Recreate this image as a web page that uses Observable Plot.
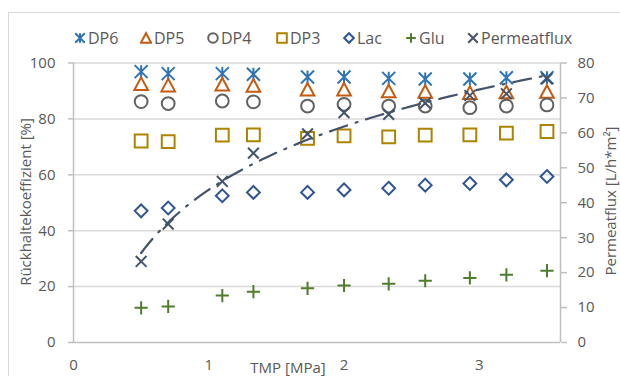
<!DOCTYPE html>
<html><head><meta charset="utf-8">
<script src="https://cdn.jsdelivr.net/npm/d3@7"></script>
<script src="https://cdn.jsdelivr.net/npm/@observablehq/plot@0.6"></script>
<style>
body{margin:0;background:#fff;font-family:"Open Sans",sans-serif;}
#wrap{position:relative;width:620px;height:376px;overflow:hidden;background:#fff}
#border{position:absolute;left:8px;top:12px;width:700px;height:500px;border:1.5px solid #d9d9d9;box-sizing:border-box}
.layer{position:absolute;left:0;top:0}
.t{position:absolute;color:#595959;font-size:15px;white-space:nowrap;line-height:1}
.lg{position:absolute;top:29px;height:18px;display:flex;align-items:center;color:#595959;font-size:16px;white-space:nowrap}
.lg svg{margin-right:2px}
</style></head>
<body><div id="wrap"><div id="border"></div></div>
<script>
// ---- data ----
const tmp   = [0.5, 0.7, 1.1, 1.33, 1.73, 2.0, 2.33, 2.6, 2.93, 3.2, 3.5];
const dp6   = [96.9, 96.2, 96.2, 96.0, 95.0, 95.0, 94.5, 94.3, 94.3, 94.7, 94.7];
const dp5   = [92.6, 92.1, 92.4, 92.0, 90.6, 90.6, 90.0, 89.8, 89.4, 89.6, 89.8];
const dp4   = [86.2, 85.5, 86.4, 86.1, 84.6, 85.2, 84.6, 84.6, 84.0, 84.6, 85.0];
const dp3   = [72.1, 71.9, 74.2, 74.3, 73.0, 73.9, 73.6, 74.2, 74.3, 74.9, 75.5];
const lac   = [47.1, 48.1, 52.5, 53.7, 53.7, 54.6, 55.2, 56.3, 56.9, 58.2, 59.4];
const glu   = [12.4, 12.9, 16.8, 18.2, 19.4, 20.4, 21.0, 22.1, 23.1, 24.2, 25.7];
const flux  = [23.2, 33.9, 46.1, 54.2, 59.7, 65.8, 65.3, 68.5, 70.7, 71.2, 75.5];
const leftTicks  = [0, 20, 40, 60, 80, 100];
const rightTicks = [0, 10, 20, 30, 40, 50, 60, 70, 80];
const xTicks     = [0, 1, 2, 3];

// ---- custom marker symbols (r = sqrt(size/PI)) ----
const R = s => Math.sqrt(s / Math.PI);
const sym = {
  star: {draw(c, s){const r=R(s); c.moveTo(-r,-r);c.lineTo(r,r);c.moveTo(-r,r);c.lineTo(r,-r);c.moveTo(0,-r);c.lineTo(0,r);}},
  tri: {draw(c, s){const r=R(s); c.moveTo(0,-r);c.lineTo(1.08*r,r);c.lineTo(-1.08*r,r);c.closePath();}},
  circ: {draw(c, s){const r=R(s); c.moveTo(r,0);c.arc(0,0,r,0,2*Math.PI);}},
  sq: {draw(c, s){const r=R(s); c.rect(-r,-r,2*r,2*r);}},
  dia: {draw(c, s){const r=R(s); c.moveTo(0,-r);c.lineTo(r,0);c.lineTo(0,r);c.lineTo(-r,0);c.closePath();}},
  plus: {draw(c, s){const r=R(s); c.moveTo(-r,0);c.lineTo(r,0);c.moveTo(0,-r);c.lineTo(0,r);}},
  times: {draw(c, s){const r=R(s); c.moveTo(-r,-r);c.lineTo(r,r);c.moveTo(-r,r);c.lineTo(r,-r);}}
};

const series = [
  {name:"DP6", vals:dp6, sym:sym.star, r:6.5, color:"#2E75B6", lx:80},
  {name:"DP5", vals:dp5, sym:sym.tri,  r:6.3, color:"#C55A11", lx:146},
  {name:"DP4", vals:dp4, sym:sym.circ, r:6.4, color:"#636363", lx:213},
  {name:"DP3", vals:dp3, sym:sym.sq,   r:6.4, color:"#AD8400", lx:282},
  {name:"Lac", vals:lac, sym:sym.dia,  r:6.4, color:"#2F5597", lx:349},
  {name:"Glu", vals:glu, sym:sym.plus, r:6.6, color:"#4E7D2C", lx:411}
];
const fluxSeries = {name:"Permeatflux", sym:sym.times, r:5.4, color:"#44546A", lx:473};

const common = {
  width:620, height:376, marginTop:62.5, marginBottom:34, marginLeft:73, marginRight:60,
  style:{background:"transparent", fontFamily:"Open Sans", fontSize:"15px", color:"#595959", overflow:"visible"},
  x:{domain:[0,3.6]}
};

const marks1 = [
  Plot.gridY(leftTicks.slice(1), {stroke:"#d9d9d9", strokeOpacity:1, strokeWidth:1.5}),
  Plot.ruleX([0], {stroke:"#bfbfbf", strokeWidth:1.5}),
  Plot.ruleY([0], {stroke:"#bfbfbf", strokeWidth:1.5}),
  Plot.axisY({ticks:leftTicks, tickSize:5, tickPadding:13, stroke:"#bfbfbf", strokeWidth:1.5, fill:"#595959", label:null}),
  Plot.axisX({ticks:xTicks, tickSize:0, tickPadding:17, tickFormat:d3.format("d"), fill:"#595959", label:null})
];
for (const s of series) {
  const data = tmp.map((x,i) => ({x, y:s.vals[i]}));
  marks1.push(Plot.dot(data, {x:"x", y:"y", symbol:s.sym, r:s.r, stroke:s.color, strokeWidth:2, fill:"none"}));
}
const p1 = Plot.plot({...common, y:{domain:[0,100]}, marks:marks1});

// log trendline fitted to the flux points
const lnx = tmp.map(Math.log);
const mx = d3.mean(lnx), my = d3.mean(flux);
const b = d3.sum(lnx.map((v,i)=>(v-mx)*(flux[i]-my))) / d3.sum(lnx.map(v=>(v-mx)**2));
const a = my - b*mx;
const x0 = d3.min(tmp), x1 = d3.max(tmp);
const trend = d3.range(0, 81).map(i => { const x = x0 + (x1-x0)*i/80; return {x, y:a + b*Math.log(x)}; });
const fluxData = tmp.map((x,i) => ({x, y:flux[i]}));

const p2 = Plot.plot({...common, x:{domain:[0,3.6], axis:null}, y:{domain:[0,80]}, marks:[
  Plot.ruleX([3.6], {stroke:"#bfbfbf", strokeWidth:1.5}),
  Plot.axisY({anchor:"right", ticks:rightTicks, tickSize:6, tickPadding:11, stroke:"#bfbfbf", strokeWidth:1.5, fill:"#595959", label:null}),
  Plot.line(trend, {x:"x", y:"y", stroke:fluxSeries.color, strokeWidth:2.2, strokeDasharray:"18,9,2,9"}),
  Plot.dot(fluxData, {x:"x", y:"y", symbol:fluxSeries.sym, r:fluxSeries.r, stroke:fluxSeries.color, strokeWidth:2, fill:"none"})
]});

const wrap = document.getElementById("wrap");
for (const p of [p1, p2]) { p.classList.add("layer"); p.style.position="absolute"; wrap.appendChild(p); }

// axis titles
function addText(txt, x, y, rot) {
  const d = document.createElement("div");
  d.className = "t"; d.textContent = txt;
  d.style.left = x + "px"; d.style.top = y + "px";
  d.style.transform = "translate(-50%,-50%)" + (rot ? " rotate(-90deg)" : "");
  wrap.appendChild(d);
}
addText("Rückhaltekoeffizient [%]", 25, 202, true);
addText("Permeatflux [L/h*m²]", 610, 201, true);
addText("TMP [MPa]", 288, 367, false);

// legend
for (const s of [...series, fluxSeries]) {
  const it = document.createElement("div");
  it.className = "lg"; it.style.left = (s.lx - 6) + "px";
  const p = d3.path(); s.sym.draw(p, Math.PI*4.8*4.8);
  it.innerHTML = `<svg width="12" height="14" viewBox="-6 -7 12 14"><path d="${p.toString()}" fill="none" stroke="${s.color}" stroke-width="2"/></svg><span>${s.name}</span>`;
  wrap.appendChild(it);
}
</script></body></html>
